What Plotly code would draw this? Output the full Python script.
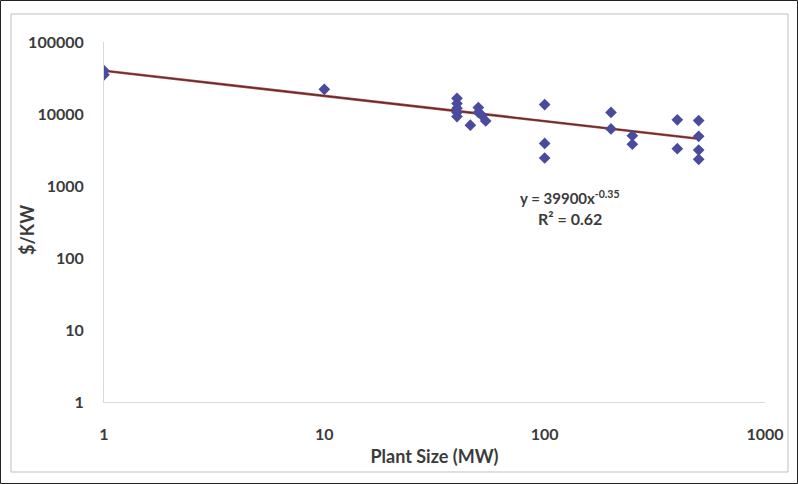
import plotly.graph_objects as go

# ---- data ----
plant_size_mw = [1, 1, 10, 40, 40, 40, 40, 40, 46, 50, 50, 52, 54,
                 100, 100, 100, 200, 200, 250, 250, 400, 400,
                 500, 500, 500, 500]
cost_per_kw = [40000, 35000, 22000, 16500, 14000, 12000, 10500, 9200, 7000, 12300, 10500, 9500, 8000,
               13500, 3900, 2450, 10500, 6200, 5000, 3800, 8300, 3300,
               8100, 4900, 3150, 2350]

trend_coef = 39900
trend_exp = -0.35
r_squared = 0.62

x_tickvals = [1, 10, 100, 1000]
x_ticktext = ["1", "10", "100", "1000"]
y_tickvals = [1, 10, 100, 1000, 10000, 100000]
y_ticktext = ["1", "10", "100", "1000", "10000", "100000"]

# trendline over data extent
tx = [min(plant_size_mw), max(plant_size_mw)]
ty = [trend_coef * v ** trend_exp for v in tx]

W, H = 798, 484
L, R, T, B = 104, 765, 42, 402  # plot area pixels


def px(xp):
    return (xp - L) / (R - L)


def py(yp):
    return (B - yp) / (B - T)


FONT = "Lato"
TXT = "#3b3b3b"

fig = go.Figure()
fig.add_trace(go.Scatter(x=tx, y=ty, mode="lines",
                         line=dict(color="#a94a48", width=2.6), hoverinfo="skip", showlegend=False))
fig.add_trace(go.Scatter(x=tx, y=ty, mode="lines",
                         line=dict(color="#5e2c2c", width=1.2), hoverinfo="skip", showlegend=False))
fig.add_trace(go.Scatter(x=plant_size_mw, y=cost_per_kw, mode="markers",
                         marker=dict(symbol="diamond", size=9, color="#4b4b9e"),
                         showlegend=False))

fig.update_layout(
    width=W, height=H,
    margin=dict(l=L, r=W - R, t=T, b=H - B, pad=0),
    paper_bgcolor="white", plot_bgcolor="white",
    font=dict(family=FONT, color=TXT),
    xaxis=dict(type="log", range=[0, 3], showgrid=False, zeroline=False,
               showline=True, linecolor="#d9d9d9", linewidth=1,
               tickvals=x_tickvals, ticktext=x_ticktext, ticks="",
               ticklabelstandoff=18,
               tickfont=dict(family=FONT, size=16, color=TXT, weight="bold"),
               title=dict(text="Plant Size (MW)", standoff=8,
                          font=dict(family=FONT, size=18, color=TXT, weight="bold"))),
    yaxis=dict(type="log", range=[0, 5], showgrid=False, zeroline=False,
               showline=True, linecolor="#d9d9d9", linewidth=1,
               tickvals=y_tickvals, ticktext=y_ticktext, ticks="",
               ticklabelstandoff=16,
               tickfont=dict(family=FONT, size=16, color=TXT, weight="bold")),
    annotations=[
        dict(text="$/KW", xref="paper", yref="paper", x=px(27), y=py(230),
             textangle=-90, showarrow=False, xanchor="center", yanchor="middle",
             font=dict(family=FONT, size=18, color=TXT, weight="bold")),
        dict(text=f"y = {trend_coef}x<sup>{trend_exp}</sup>", xref="paper", yref="paper",
             x=px(570), y=py(197), showarrow=False, xanchor="center", yanchor="middle",
             font=dict(family=FONT, size=15, color=TXT, weight="bold")),
        dict(text=f"R² = {r_squared}", xref="paper", yref="paper",
             x=px(570), y=py(218), showarrow=False, xanchor="center", yanchor="middle",
             font=dict(family=FONT, size=16, color=TXT, weight="bold")),
    ],
    shapes=[
        dict(type="rect", xref="paper", yref="paper", x0=px(11), x1=px(788), y0=py(14), y1=py(472),
             line=dict(color="#bfbfbf", width=1), layer="below"),
        dict(type="rect", xref="paper", yref="paper", x0=px(0.5), x1=px(797.5), y0=py(0.5), y1=py(483.5),
             line=dict(color="#222222", width=1), layer="above"),
    ],
)

fig.write_html("out.html")
